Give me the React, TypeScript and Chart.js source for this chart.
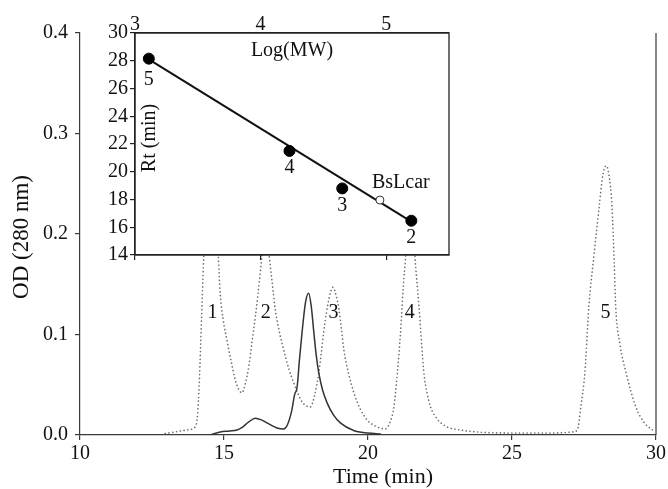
import React, { useEffect, useRef } from 'react';
import { Chart, registerables } from 'chart.js';

Chart.register(...registerables);

const FONT = '"Liberation Serif", "Times New Roman", serif';

// ---- Main chromatogram ----
const timeTicks = [10, 15, 20, 25, 30];
const odTicks = [0, 0.1, 0.2, 0.3, 0.4];

const standardsTime = [12.96, 13.3, 13.7, 14.0, 14.08, 14.14, 14.19, 14.25, 14.3, 14.4, 14.55, 14.7, 14.8, 14.87, 14.97, 15.1, 15.25, 15.39, 15.5, 15.62, 15.73, 15.86, 15.97, 16.09, 16.18, 16.26, 16.32, 16.45, 16.57, 16.68, 16.78, 16.92, 17.07, 17.25, 17.42, 17.57, 17.71, 17.86, 18.0, 18.15, 18.29, 18.38, 18.46, 18.55, 18.64, 18.78, 18.9, 18.99, 19.08, 19.16, 19.32, 19.51, 19.73, 19.97, 20.25, 20.6, 20.78, 20.9, 21.02, 21.13, 21.22, 21.3, 21.48, 21.62, 21.77, 21.94, 22.05, 22.17, 22.4, 22.75, 23.2, 23.8, 25.0, 26.5, 27.1, 27.27, 27.39, 27.53, 27.67, 27.85, 28.03, 28.15, 28.27, 28.37, 28.47, 28.55, 28.6, 28.75, 28.96, 29.3, 29.6, 29.88];
const standardsOD = [0.0015, 0.003, 0.005, 0.008, 0.02, 0.05, 0.09, 0.14, 0.18, 0.25, 0.3, 0.25, 0.18, 0.14, 0.115, 0.095, 0.073, 0.055, 0.046, 0.042, 0.05, 0.068, 0.092, 0.118, 0.14, 0.162, 0.178, 0.21, 0.178, 0.15, 0.125, 0.103, 0.085, 0.066, 0.052, 0.041, 0.033, 0.029, 0.028, 0.04, 0.062, 0.082, 0.102, 0.12, 0.135, 0.147, 0.138, 0.125, 0.105, 0.085, 0.062, 0.042, 0.026, 0.015, 0.009, 0.006, 0.014, 0.028, 0.062, 0.102, 0.145, 0.175, 0.25, 0.181, 0.128, 0.062, 0.042, 0.028, 0.016, 0.008, 0.005, 0.003, 0.002, 0.002, 0.003, 0.005, 0.028, 0.062, 0.128, 0.18, 0.228, 0.258, 0.268, 0.258, 0.228, 0.17, 0.128, 0.09, 0.062, 0.028, 0.012, 0.005];

const sampleTime = [14.5, 14.87, 15.2, 15.45, 15.6, 15.86, 16.09, 16.3, 16.49, 16.84, 17.07, 17.2, 17.35, 17.45, 17.54, 17.62, 17.71, 17.83, 17.94, 18.03, 18.12, 18.2, 18.29, 18.42, 18.58, 18.8, 19.04, 19.5, 20.0, 20.45];
const sampleOD = [0.0, 0.003, 0.004, 0.005, 0.007, 0.013, 0.0167, 0.015, 0.012, 0.007, 0.006, 0.01, 0.024, 0.04, 0.048, 0.075, 0.102, 0.132, 0.141, 0.128, 0.102, 0.08, 0.062, 0.045, 0.032, 0.02, 0.012, 0.0045, 0.002, 0.001];

const peakLabels = ['1', '2', '3', '4', '5'];
const peakLabelTimes = [14.6, 16.45, 18.8, 21.45, 28.25];
const peakLabelOD = 0.122;

// ---- Inset calibration ----
const logMWTicks = [3, 4, 5];
const rtTicks = [14, 16, 18, 20, 22, 24, 26, 28, 30];
const standardLogMW = [3.11, 4.23, 4.65, 5.2];
const standardRt = [28.15, 21.5, 18.8, 16.47];
const standardNames = ['5', '4', '3', '2'];
const bslcarLogMW = [4.95];
const bslcarRt = [17.96];
const fitLogMW = [3.11, 5.2];
const fitRt = [28.1, 16.4];

const pts = (xs: number[], ys: number[]) => xs.map((x, i) => ({ x, y: ys[i] }));

export default function App() {
  const mainRef = useRef<HTMLCanvasElement>(null);
  const insetRef = useRef<HTMLCanvasElement>(null);

  useEffect(() => {
    const axisColor = '#3a3a3a';
    const textColor = '#111';

    const mainPlugin = {
      id: 'mainDecor',
      afterDraw(chart: any) {
        const { ctx, chartArea, scales } = chart;
        ctx.save();
        ctx.strokeStyle = axisColor;
        ctx.lineWidth = 1.2;
        ctx.beginPath();
        ctx.moveTo(chartArea.right, chartArea.top);
        ctx.lineTo(chartArea.right, chartArea.bottom);
        ctx.stroke();
        ctx.fillStyle = textColor;
        ctx.font = `20px ${FONT}`;
        ctx.textAlign = 'center';
        ctx.textBaseline = 'middle';
        peakLabels.forEach((t, i) => {
          ctx.fillText(t, scales.x.getPixelForValue(peakLabelTimes[i]), scales.y.getPixelForValue(peakLabelOD));
        });
        ctx.font = `22px ${FONT}`;
        ctx.fillText('Time (min)', (chartArea.left + chartArea.right) / 2 + 15, 477);
        ctx.font = `23px ${FONT}`;
        ctx.translate(22, (chartArea.top + chartArea.bottom) / 2 + 3);
        ctx.rotate(-Math.PI / 2);
        ctx.fillText('OD (280 nm)', 0, 0);
        ctx.restore();
      },
    };

    const main = new Chart(mainRef.current!, {
      type: 'scatter',
      data: {
        datasets: [
          {
            data: pts(sampleTime, sampleOD),
            showLine: true,
            borderColor: '#333',
            borderWidth: 1.5,
            pointRadius: 0,
            cubicInterpolationMode: 'monotone',
          },
          {
            data: pts(standardsTime, standardsOD),
            showLine: true,
            borderColor: '#6f6f6f',
            borderWidth: 1.7,
            borderDash: [0.01, 3.8],
            borderCapStyle: 'round',
            pointRadius: 0,
            cubicInterpolationMode: 'monotone',
          },
        ],
      } as any,
      options: {
        responsive: false,
        animation: false,
        devicePixelRatio: 1,
        layout: { padding: { top: 33, right: 11, left: 0, bottom: 0 } },
        plugins: { legend: { display: false }, tooltip: { enabled: false } },
        scales: {
          x: {
            type: 'linear',
            min: 10,
            max: 30,
            afterBuildTicks: (s: any) => { s.ticks = timeTicks.map((v) => ({ value: v })); },
            afterFit: (s: any) => { s.height = 54; },
            grid: { display: true, drawOnChartArea: false, drawTicks: true, tickLength: 5, color: axisColor, lineWidth: 1.2 },
            border: { display: true, color: axisColor, width: 1.2 },
            ticks: { font: { family: FONT, size: 20 }, color: textColor, padding: 2, maxRotation: 0, autoSkip: false },
          },
          y: {
            type: 'linear',
            min: 0,
            max: 0.4,
            afterBuildTicks: (s: any) => { s.ticks = odTicks.map((v) => ({ value: v })); },
            afterFit: (s: any) => { s.width = 80; },
            grid: { display: true, drawOnChartArea: false, drawTicks: true, tickLength: 5, color: axisColor, lineWidth: 1.2 },
            border: { display: true, color: axisColor, width: 1.2 },
            ticks: { font: { family: FONT, size: 20 }, color: textColor, padding: 7, callback: (v: any) => Number(v).toFixed(1) },
          },
        },
      } as any,
      plugins: [mainPlugin],
    });

    const insetPlugin = {
      id: 'insetDecor',
      beforeDraw(chart: any) {
        const { ctx, chartArea } = chart;
        ctx.save();
        ctx.fillStyle = '#fff';
        ctx.fillRect(chartArea.left, chartArea.top, chartArea.right - chartArea.left, chartArea.bottom - chartArea.top);
        ctx.restore();
      },
      afterDraw(chart: any) {
        const { ctx, chartArea, scales } = chart;
        ctx.save();
        ctx.strokeStyle = '#222';
        ctx.lineWidth = 1.3;
        ctx.strokeRect(chartArea.left, chartArea.top, chartArea.right - chartArea.left, chartArea.bottom - chartArea.top);
        ctx.fillStyle = textColor;
        ctx.font = `20px ${FONT}`;
        ctx.textAlign = 'center';
        ctx.textBaseline = 'middle';
        standardNames.forEach((n, i) => {
          const px = scales.x.getPixelForValue(standardLogMW[i]);
          const py = scales.y.getPixelForValue(standardRt[i]);
          ctx.fillText(n, px, py + (i === 0 ? 21 : 17));
        });
        ctx.textAlign = 'left';
        ctx.fillText('BsLcar',
          scales.x.getPixelForValue(bslcarLogMW[0]) - 8,
          scales.y.getPixelForValue(bslcarRt[0]) - 17);
        ctx.textAlign = 'center';
        ctx.fillText('Log(MW)', (chartArea.left + chartArea.right) / 2, chartArea.top + 18);
        ctx.translate(chartArea.left + 15, (chartArea.top + chartArea.bottom) / 2 - 6);
        ctx.rotate(-Math.PI / 2);
        ctx.fillText('Rt (min)', 0, 0);
        ctx.restore();
      },
    };

    const insetTickGrid = { display: true, drawOnChartArea: false, drawTicks: true, tickLength: 5, color: '#222', lineWidth: 1.2 };

    const inset = new Chart(insetRef.current!, {
      type: 'scatter',
      data: {
        datasets: [
          {
            data: pts(standardLogMW, standardRt),
            pointRadius: 5.5,
            pointBackgroundColor: '#000',
            pointBorderColor: '#000',
            pointBorderWidth: 1,
            xAxisID: 'x',
          },
          {
            data: pts(bslcarLogMW, bslcarRt),
            pointRadius: 4,
            pointBackgroundColor: '#fff',
            pointBorderColor: '#333',
            pointBorderWidth: 1,
            xAxisID: 'x',
          },
          {
            data: pts(fitLogMW, fitRt),
            showLine: true,
            borderColor: '#111',
            borderWidth: 2,
            pointRadius: 0,
            xAxisID: 'x',
          },
        ],
      } as any,
      options: {
        responsive: false,
        animation: false,
        devicePixelRatio: 1,
        layout: { padding: { top: 0, right: 219, left: 95, bottom: 226 } },
        plugins: { legend: { display: false }, tooltip: { enabled: false } },
        scales: {
          x: {
            type: 'linear',
            position: 'top',
            min: 3,
            max: 5.5,
            afterBuildTicks: (s: any) => { s.ticks = logMWTicks.map((v) => ({ value: v })); },
            afterFit: (s: any) => { s.height = 33; },
            grid: { display: true, drawOnChartArea: false, drawTicks: false, color: '#222', lineWidth: 1.2 },
            border: { display: true, color: '#222', width: 1.3 },
            ticks: { font: { family: FONT, size: 20 }, color: textColor, padding: -4, maxRotation: 0, autoSkip: false },
          },
          x2: {
            type: 'linear',
            position: 'bottom',
            min: 3,
            max: 5.5,
            afterBuildTicks: (s: any) => { s.ticks = logMWTicks.map((v) => ({ value: v })); },
            afterFit: (s: any) => { s.height = 8; },
            grid: insetTickGrid,
            border: { display: true, color: '#222', width: 1.3 },
            ticks: { display: true, callback: () => '', padding: 0 },
          },
          y: {
            type: 'linear',
            min: 14,
            max: 30,
            afterBuildTicks: (s: any) => { s.ticks = rtTicks.map((v) => ({ value: v })); },
            afterFit: (s: any) => { s.width = 40; },
            grid: insetTickGrid,
            border: { display: true, color: '#222', width: 1.3 },
            ticks: { font: { family: FONT, size: 20 }, color: textColor, padding: 2 },
          },
        },
      } as any,
      plugins: [insetPlugin],
    });

    return () => {
      main.destroy();
      inset.destroy();
    };
  }, []);

  return (
    <div style={{ position: 'fixed', left: 0, top: 0, width: 668, height: 489, background: '#fff' }}>
      <canvas ref={mainRef} width={668} height={489} style={{ position: 'absolute', left: 0, top: 0, display: 'block' }} />
      <canvas ref={insetRef} width={668} height={489} style={{ position: 'absolute', left: 0, top: 0, display: 'block' }} />
    </div>
  );
}
